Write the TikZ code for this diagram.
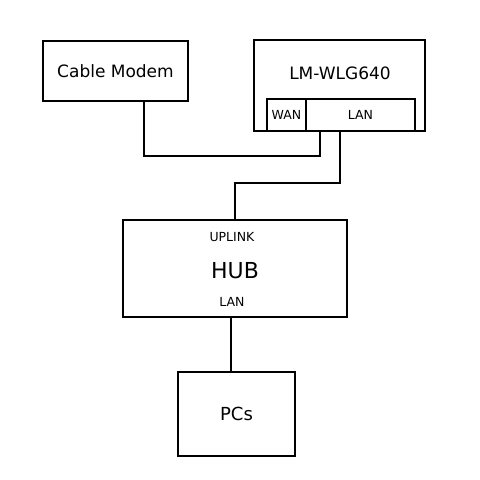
\documentclass[tikz,border=0pt]{standalone}
\usepackage{fontspec}
\setmainfont{DejaVu Sans}
\usetikzlibrary{positioning, calc}
\tikzset{
  every node/.style={font=\fontsize{17}{20}\selectfont},
  BOX/.style={draw, line width=2pt, inner sep=0pt, align=center},
  PORT/.style={BOX, font=\fontsize{12.5}{15}\selectfont},
  SMALL/.style={font=\fontsize{12.5}{15}\selectfont},
  WIRE/.style={line width=2pt},
}

\begin{document}
\begin{tikzpicture}[x=1pt, y=1pt, yscale=-1]

\useasboundingbox (0,0) rectangle (480,480);

%% ═══════════════════════════════════════════════════════════════
%%  Devices
%% ═══════════════════════════════════════════════════════════════

\node[BOX, minimum width=145pt, minimum height=60pt] (MODEM) at (115.5,71)
  {Cable Modem};

\node[BOX, minimum width=171pt, minimum height=91pt] (RTR) at (339.5,85.5) {};
\node at (340,73) {LM-WLG640};
\node[PORT, minimum width=39pt, minimum height=32pt] (WAN) at (286.5,115) {WAN};
\node[PORT, minimum width=109pt, minimum height=32pt] (LAN) at (360.5,115) {LAN};

\node[BOX, minimum width=224pt, minimum height=97pt] (HUB) at (235,268.5) {};
\node[SMALL] at (232,237) {UPLINK};
\node[font=\fontsize{22}{26}\selectfont] at (235,271) {HUB};
\node[SMALL] at (232,302) {LAN};

\node[BOX, minimum width=117pt, minimum height=84pt, font=\fontsize{18}{22}\selectfont]
  (PCS) at (236.5,414) {PCs};

%% ═══════════════════════════════════════════════════════════════
%%  Cabling
%% ═══════════════════════════════════════════════════════════════

\coordinate (J0) at (144,156);
\coordinate (J1) at (320,156);
\coordinate (J2) at (340,183);
\coordinate (J3) at (231,317);

\draw[WIRE] (J0 |- MODEM.south) -- (J0) -- (J1) -- (J1 |- LAN.south);
\draw[WIRE] (J2 |- LAN.south) -- (J2) -| (HUB.north);
\draw[WIRE] (J3 |- HUB.south) -- (J3 |- PCS.north);

\end{tikzpicture}
\end{document}
